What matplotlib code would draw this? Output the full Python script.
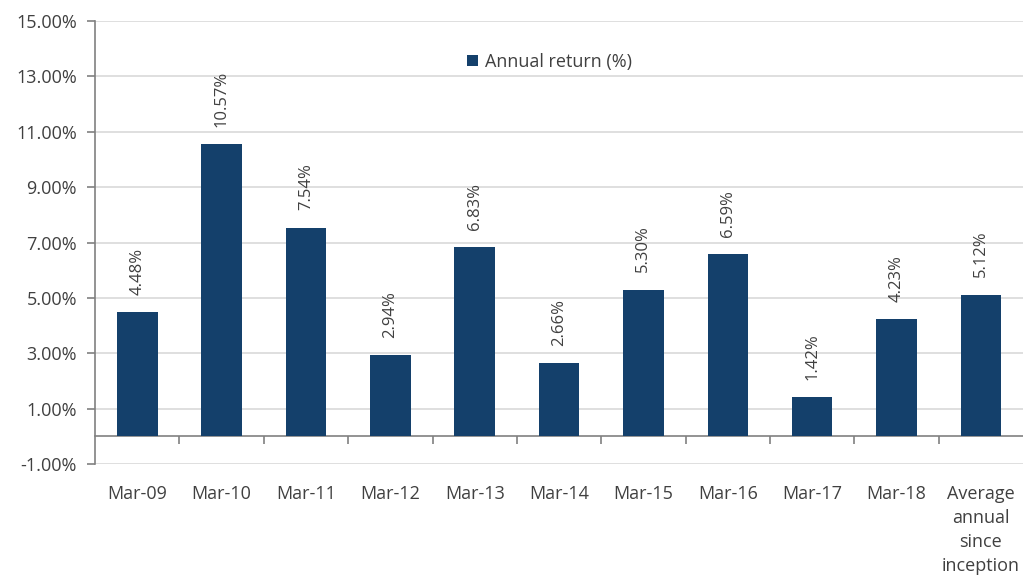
import numpy as np
import matplotlib.pyplot as plt

categories = ["Mar-09", "Mar-10", "Mar-11", "Mar-12", "Mar-13", "Mar-14",
              "Mar-15", "Mar-16", "Mar-17", "Mar-18",
              "Average\nannual\nsince\ninception"]
returns = [4.48, 10.57, 7.54, 2.94, 6.83, 2.66, 5.30, 6.59, 1.42, 4.23, 5.12]
yticks = [-1, 1, 3, 5, 7, 9, 11, 13, 15]

plt.rcParams['font.family'] = ['Open Sans', 'DejaVu Sans']
text_col = "#404040"
bar_col = "#14406b"

fig = plt.figure(figsize=(10.23, 5.76), dpi=100)
ax = fig.add_axes([0.093, 0.1944, 0.907, 0.7691])

x = np.arange(len(categories))
bars = ax.bar(x, returns, width=0.48, color=bar_col, label="Annual return (%)", zorder=3)

for xi, v in zip(x, returns):
    ax.text(xi, v + 0.62, f"{v:.2f}%", rotation=90, ha="center", va="bottom",
            fontsize=12, color=text_col)

ax.set_xlim(-0.5, len(categories) - 0.5)
ax.set_ylim(-1, 15)
ax.set_yticks(yticks)
ax.set_yticklabels([f"{t:.2f}%" for t in yticks], fontsize=13, color=text_col)
ax.yaxis.grid(True, color="#d9d9d9", linewidth=1.2, zorder=0)
ax.tick_params(axis="y", length=6, color="#808080", width=1.2, pad=7)

# x axis drawn at zero, labels pushed below the plot
ax.spines['bottom'].set_position(('data', 0))
ax.spines['bottom'].set_color("#808080")
ax.spines['bottom'].set_linewidth(1.2)
ax.spines['left'].set_color("#808080")
ax.spines['left'].set_linewidth(1.2)
ax.spines['top'].set_visible(False)
ax.spines['right'].set_visible(False)
ax.set_xticks(x)
ax.set_xticklabels(categories, fontsize=13, color=text_col, linespacing=1.42)
ax.set_xticks(np.arange(0.5, len(categories) - 0.5), minor=True)
ax.tick_params(axis="x", which="major", length=0, pad=35)
ax.tick_params(axis="x", which="minor", length=6, color="#808080", width=1.2)

leg = ax.legend(loc="upper center", bbox_to_anchor=(0.49, 0.965), frameon=False,
                fontsize=13, handlelength=0.6, handleheight=0.6, handletextpad=0.4)
for t in leg.get_texts():
    t.set_color(text_col)

fig.savefig("out.png", dpi=100)
